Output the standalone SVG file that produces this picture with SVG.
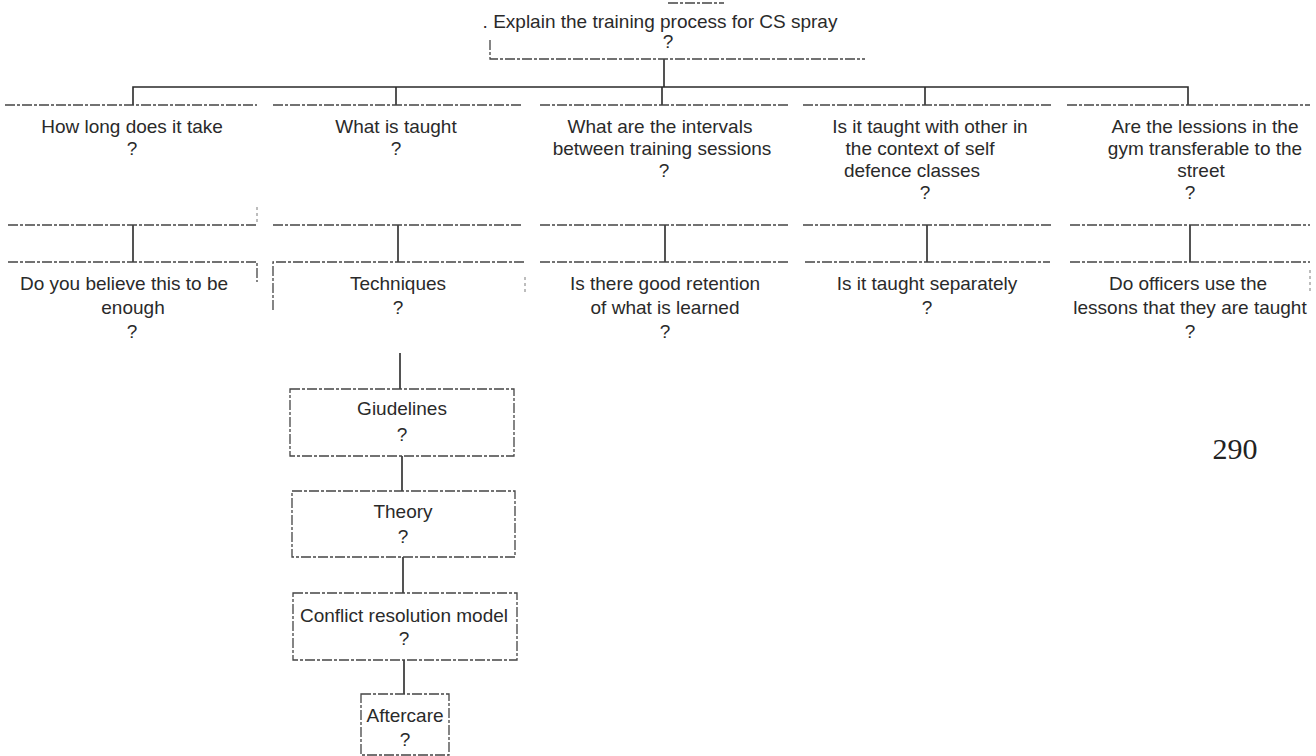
<svg xmlns="http://www.w3.org/2000/svg" width="1316" height="756" viewBox="0 0 1316 756">
<style>
text{font-family:"Liberation Sans",Arial,sans-serif;font-size:19px;fill:#2a2a2a;text-anchor:middle}
.num{font-family:"Liberation Serif","Times New Roman",serif;font-size:30px;fill:#222}
.box{fill:none;stroke:#444;stroke-width:1.3;stroke-dasharray:10 2 3 2}
.edge{fill:none;stroke:#888;stroke-width:1.1;stroke-dasharray:3 3}
.conn{fill:none;stroke:#2a2a2a;stroke-width:1.6}
</style>
<rect width="1316" height="756" fill="#fff"/>

<g id="connectors">
  <path class="conn" d="M664 59V87M133 105V87H1188V105M396 87V105M662 87V105M925 87V105"/>
  <path class="conn" d="M133 225V262M398 225V262M665 225V262M927 225V262M1190 225V262"/>
  <path class="conn" d="M400 353V389M402 456V491M403 557V593M404 660V694"/>
</g>

<g id="root">
  <path class="box" d="M668 3H724M490 40V59H865"/>
  <text x="660" y="28">. Explain the training process for CS spray</text>
  <text x="668" y="48">?</text>
</g>

<g id="n-how-long">
  <path class="box" d="M5 105H257M8 225H257"/>
  <path class="edge" d="M257 207V225"/>
  <text x="132" y="133">How long does it take</text>
  <text x="132" y="155">?</text>
</g>
<g id="n-what-taught">
  <path class="box" d="M273 105H523M273 225H523"/>
  <text x="396" y="133">What is taught</text>
  <text x="396" y="155">?</text>
</g>
<g id="n-intervals">
  <path class="box" d="M540 105H788M540 225H788"/>
  <text x="660" y="133">What are the intervals</text>
  <text x="662" y="155">between training sessions</text>
  <text x="664" y="177">?</text>
</g>
<g id="n-self-defence">
  <path class="box" d="M803 105H1052M803 225H1052"/>
  <text x="930" y="133">Is it taught with other in</text>
  <text x="920" y="155">the context of self</text>
  <text x="912" y="177">defence classes</text>
  <text x="925" y="199">?</text>
</g>
<g id="n-transferable">
  <path class="box" d="M1067 105H1310M1070 225H1310"/>
  <text x="1205" y="133">Are the lessions in the</text>
  <text x="1205" y="155">gym transferable to the</text>
  <text x="1201" y="177">street</text>
  <text x="1190" y="199">?</text>
</g>

<g id="n-enough">
  <path class="box" d="M8 262H257V282"/>
  <text x="124" y="290">Do you believe this to be</text>
  <text x="133" y="314">enough</text>
  <text x="132" y="338">?</text>
</g>
<g id="n-techniques">
  <path class="box" d="M273 310V262H525"/>
  <path class="edge" d="M525 277V292"/>
  <text x="398" y="290">Techniques</text>
  <text x="398" y="314">?</text>
</g>
<g id="n-retention">
  <path class="box" d="M540 262H788"/>
  <text x="665" y="290">Is there good retention</text>
  <text x="665" y="314">of what is learned</text>
  <text x="665" y="338">?</text>
</g>
<g id="n-separately">
  <path class="box" d="M805 262H1050"/>
  <text x="927" y="290">Is it taught separately</text>
  <text x="927" y="314">?</text>
</g>
<g id="n-officers">
  <path class="box" d="M1070 262H1310"/>
  <path class="edge" d="M1310 270V292"/>
  <text x="1188" y="290">Do officers use the</text>
  <text x="1190" y="314">lessons that they are taught</text>
  <text x="1190" y="338">?</text>
</g>

<g id="n-guidelines">
  <rect class="box" x="290" y="389" width="224" height="67"/>
  <text x="402" y="415">Giudelines</text>
  <text x="402" y="441">?</text>
</g>
<g id="n-theory">
  <rect class="box" x="292" y="491" width="223" height="66"/>
  <text x="403" y="518">Theory</text>
  <text x="403" y="543">?</text>
</g>
<g id="n-conflict">
  <rect class="box" x="293" y="593" width="224" height="67"/>
  <text x="404" y="622">Conflict resolution model</text>
  <text x="404" y="645">?</text>
</g>
<g id="n-aftercare">
  <rect class="box" x="361" y="694" width="88" height="61"/>
  <text x="405" y="722">Aftercare</text>
  <text x="405" y="746">?</text>
</g>

<text class="num" x="1235" y="459">290</text>
</svg>
